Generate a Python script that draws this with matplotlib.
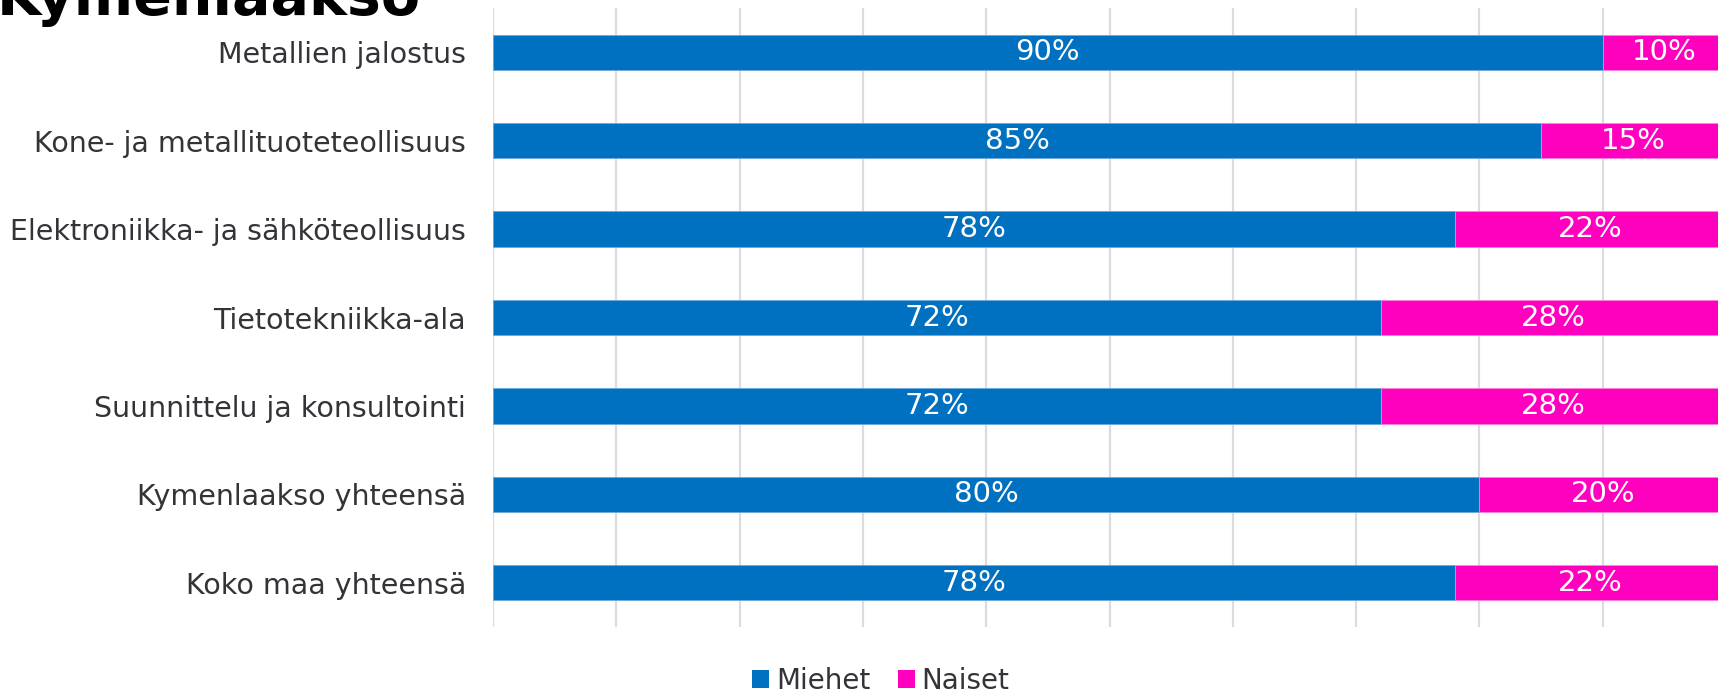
import matplotlib
matplotlib.use("Agg")
import matplotlib.pyplot as plt
from matplotlib.patches import Patch

# Gender shares by industry, Kymenlaakso
categories = [
    "Metallien jalostus",
    "Kone- ja metallituoteteollisuus",
    "Elektroniikka- ja sähköteollisuus",
    "Tietotekniikka-ala",
    "Suunnittelu ja konsultointi",
    "Kymenlaakso yhteensä",
    "Koko maa yhteensä",
]
miehet = [90, 85, 78, 72, 72, 80, 78]
naiset = [10, 15, 22, 28, 28, 20, 22]
series_names = ["Miehet", "Naiset"]
title = "Kymenlaakso"

BLUE = "#0070C0"
PINK = "#FF00BF"
TEXT = "#333338"
GRID = "#DCDCE0"

plt.rcParams["font.family"] = ["DejaVu Sans"]

W, H, DPI = 1718, 692, 100
fig = plt.figure(figsize=(W / DPI, H / DPI), dpi=DPI)
fig.patch.set_facecolor("white")

left_px, right_px, top_px, bottom_px = 493, 1726, 8, 627
ax = fig.add_axes([left_px / W, 1 - bottom_px / H,
                   (right_px - left_px) / W, (bottom_px - top_px) / H])

y = list(range(len(categories)))
bar_h = 0.4
ax.barh(y, miehet, height=bar_h, color=BLUE, edgecolor="#6FA8DC",
        linewidth=0.6, zorder=3)
ax.barh(y, naiset, left=miehet, height=bar_h, color=PINK, edgecolor="#FF7FDC",
        linewidth=0.6, zorder=3)

for yi, m, n in zip(y, miehet, naiset):
    ax.text(m / 2, yi, f"{m}%", ha="center", va="center", color="white",
            fontsize=21, zorder=4)
    ax.text(m + n / 2, yi, f"{n}%", ha="center", va="center", color="white",
            fontsize=21, zorder=4)

ax.set_xlim(0, 100)
ax.set_ylim(len(categories) - 0.5, -0.5)
ax.set_xticks(range(0, 101, 10))
ax.set_xticklabels([])
ax.set_yticks(y)
ax.set_yticklabels(categories, fontsize=20.5, color=TEXT)
ax.tick_params(axis="both", length=0)
ax.tick_params(axis="y", pad=19.5)
ax.grid(axis="x", color=GRID, linewidth=1.6, zorder=0)
for s in ax.spines.values():
    s.set_visible(False)

fig.text(-0.002, 1 - 14.7 / H, title, fontsize=41, fontweight="bold",
         color="black", ha="left", va="baseline")

handles = [Patch(facecolor=BLUE, edgecolor="none"),
           Patch(facecolor=PINK, edgecolor="none")]
fig.legend(handles, series_names, loc="center", bbox_to_anchor=(881 / W, 1 - 681 / H),
           ncol=2, frameon=False, fontsize=20, labelcolor=TEXT,
           handlelength=0.6, handleheight=0.6, handletextpad=0.25,
           columnspacing=1.0, borderpad=0)

fig.savefig("out.png", dpi=DPI, facecolor="white")
